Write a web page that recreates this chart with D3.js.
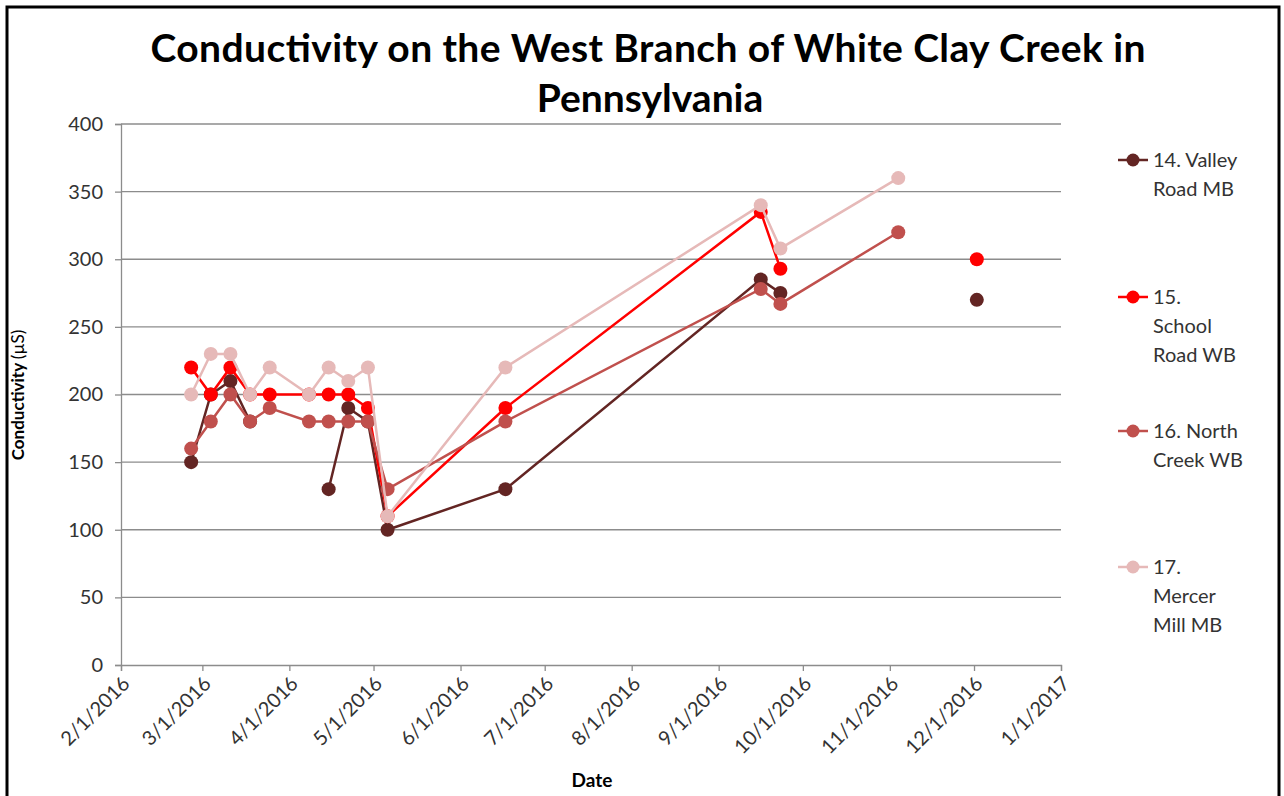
<!DOCTYPE html>
<html>
<head>
<meta charset="utf-8">
<script src="https://cdn.jsdelivr.net/npm/d3@7"></script>
<style>
  body { margin: 0; background: #fff; }
  svg { font-family: Lato, "Open Sans", sans-serif; }
</style>
</head>
<body>
<svg id="chart" width="1284" height="796"></svg>
<script>
// sampling dates (weekly in spring, then a few in summer / fall)
const dates = ["2016-02-26", "2016-03-04", "2016-03-11", "2016-03-18", "2016-03-25",
    "2016-04-08", "2016-04-15", "2016-04-22", "2016-04-29", "2016-05-06",
    "2016-06-17", "2016-09-16", "2016-09-23", "2016-11-04", "2016-12-02"];

// conductivity per site, null = no reading
const valleyRoad = [150, 200, 210, 180, null, null, 130, 190, 180, 100, 130, 285, 275, null, 270];
const schoolRoad = [220, 200, 220, 200, 200, 200, 200, 200, 190, 110, 190, 335, 293, null, 300];
const northCreek = [160, 180, 200, 180, 190, 180, 180, 180, 180, 130, 180, 278, 267, 320, null];
const mercerMill = [200, 230, 230, 200, 220, 200, 220, 210, 220, 110, 220, 340, 308, 360, null];

const seriesNames = [["14. Valley", "Road MB"], ["15.", "School", "Road WB"],
    ["16. North", "Creek WB"], ["17.", "Mercer", "Mill MB"]];
const seriesColors = ["#632523", "#ff0000", "#c0504d", "#e6b9b8"];
const yTicks = [0, 50, 100, 150, 200, 250, 300, 350, 400];

const parseDate = d3.timeParse("%Y-%m-%d");
const allSeries = [valleyRoad, schoolRoad, northCreek, mercerMill].map(function(vals, i) {
    return {
        name: seriesNames[i],
        color: seriesColors[i],
        points: vals.map(function(v, j) { return {date: parseDate(dates[j]), v: v}; })
    };
});

const svg = d3.select("#chart");

// outer frame (cut at bottom like the screenshot)
svg.append("path")
    .attr("d", "M7,796 V7 H1279 V796")
    .attr("fill", "none")
    .attr("stroke", "#000")
    .attr("stroke-width", 3);

const x = d3.scaleTime()
    .domain([new Date(2016, 1, 1), new Date(2017, 0, 1)])
    .range([121, 1061]);
const y = d3.scaleLinear().domain([0, 400]).range([665, 124]);

// title
svg.append("text")
    .attr("x", 648).attr("y", 62)
    .attr("text-anchor", "middle")
    .attr("font-size", 39).attr("font-weight", "bold")
    .attr("textLength", 995)
    .text("Conductivity on the West Branch of White Clay Creek in");
svg.append("text")
    .attr("x", 650).attr("y", 112)
    .attr("text-anchor", "middle")
    .attr("font-size", 39).attr("font-weight", "bold")
    .text("Pennsylvania");

// gridlines
svg.append("g")
    .selectAll("line")
    .data(yTicks.slice(1))
    .enter()
    .append("line")
    .attr("x1", 121).attr("x2", 1061)
    .attr("y1", function(d) { return y(d); })
    .attr("y2", function(d) { return y(d); })
    .attr("stroke", "#8c8c8c")
    .attr("stroke-width", 1.3);

// y axis
const yAxis = svg.append("g")
    .attr("transform", "translate(121,0)")
    .call(d3.axisLeft(y).tickValues(yTicks).tickSize(6).tickPadding(12));
yAxis.select(".domain").attr("stroke", "#8c8c8c").attr("stroke-width", 1.3);
yAxis.selectAll(".tick line").attr("stroke", "#8c8c8c").attr("stroke-width", 1.3);
yAxis.selectAll(".tick text")
    .attr("font-size", 20).attr("fill", "#333")
    .attr("font-family", "Lato, sans-serif");

// x axis
const monthTicks = d3.timeMonth.range(new Date(2016, 1, 1), new Date(2017, 0, 2));
const xAxis = svg.append("g")
    .attr("transform", "translate(0,665)")
    .call(d3.axisBottom(x).tickValues(monthTicks).tickSize(6).tickFormat(""));
xAxis.select(".domain").attr("stroke", "#8c8c8c").attr("stroke-width", 1.3);
xAxis.selectAll(".tick line").attr("stroke", "#8c8c8c").attr("stroke-width", 1.3);

const fmt = d3.timeFormat("%-m/%-d/%Y");
svg.append("g")
    .selectAll("text")
    .data(monthTicks)
    .enter()
    .append("text")
    .attr("transform", function(d) { return "translate(" + (x(d) + 5) + ",680) rotate(-45)"; })
    .attr("text-anchor", "end")
    .attr("dy", "0.35em")
    .attr("font-size", 20).attr("fill", "#333")
    .text(function(d) { return fmt(d); });

// axis titles
svg.append("text")
    .attr("x", 592).attr("y", 787)
    .attr("text-anchor", "middle")
    .attr("font-size", 19).attr("font-weight", "bold")
    .text("Date");

const yTitle = svg.append("text")
    .attr("transform", "translate(24,395) rotate(-90)")
    .attr("text-anchor", "middle")
    .attr("font-size", 17);
yTitle.append("tspan").attr("font-weight", "bold").text("Conductivity ");
yTitle.append("tspan").text("(\u00b5S)");

// series
const line = d3.line()
    .defined(function(d) { return d.v != null; })
    .x(function(d) { return x(d.date); })
    .y(function(d) { return y(d.v); });

allSeries.forEach(function(s) {
    const g = svg.append("g");
    g.append("path")
        .datum(s.points)
        .attr("d", line)
        .attr("fill", "none")
        .attr("stroke", s.color)
        .attr("stroke-width", 2.5);
    g.selectAll("circle")
        .data(s.points.filter(function(d) { return d.v != null; }))
        .enter()
        .append("circle")
        .attr("cx", function(d) { return x(d.date); })
        .attr("cy", function(d) { return y(d.v); })
        .attr("r", 7)
        .attr("fill", s.color);
});

// legend
const legendY = [160, 297, 431, 567];
allSeries.forEach(function(s, i) {
    const g = svg.append("g").attr("transform", "translate(1118," + legendY[i] + ")");
    g.append("line")
        .attr("x1", 0).attr("x2", 30)
        .attr("stroke", s.color).attr("stroke-width", 2.5);
    g.append("circle").attr("cx", 15).attr("r", 6.5).attr("fill", s.color);
    g.selectAll("text")
        .data(s.name)
        .enter()
        .append("text")
        .attr("x", 35)
        .attr("y", function(d, j) { return j * 29; })
        .attr("dy", "0.35em")
        .attr("font-size", 20).attr("fill", "#333")
        .text(function(d) { return d; });
});
</script>
</body>
</html>
